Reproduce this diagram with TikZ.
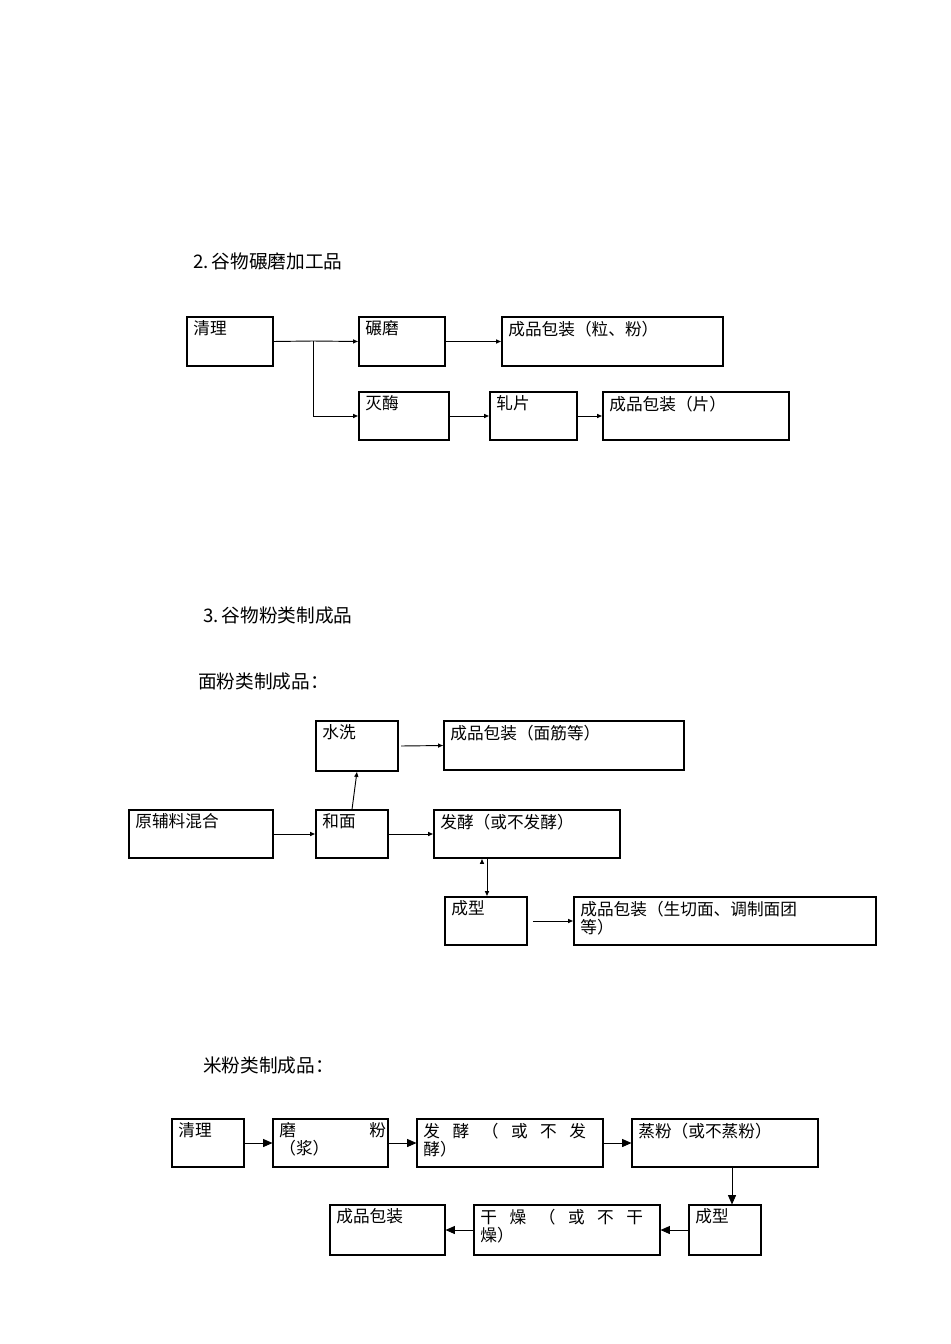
\documentclass[tikz,border=0pt]{standalone}
\usepackage{fontspec}
\setmainfont{Noto Sans CJK SC}
\usetikzlibrary{arrows.meta}
\begin{document}
\begin{tikzpicture}[x=0.75pt,y=-0.75pt,
  box/.style={draw,line width=0.8pt,inner sep=0,rectangle},
  lbl/.style={anchor=north west,inner sep=0,xshift=5pt,yshift=-3pt,align=left,font=\fontsize{12.5}{13.5}\selectfont},
  title/.style={anchor=west,inner sep=0,font=\fontsize{14}{16}\selectfont},
  ar/.style={-{Latex[length=4pt,width=3.5pt]},line width=0.7pt},
  arb/.style={-{Triangle[length=7pt,width=6pt]},line width=0.7pt}]
\newcommand\bx[6]{\node[box,minimum width={(#4-#2)*0.75pt},minimum height={(#5-#3)*0.75pt}] (#1) at ({(#2+#4)/2},{(#3+#5)/2}) {};
  \node[lbl] at (#1.north west) {#6};}
\useasboundingbox (0,0) rectangle (950,1344);
% section 2
\node[title] (t2) at (193,261) {2.\,谷物碾磨加工品};
\bx{a1}{187}{317}{273}{366}{清理}
\bx{a2}{359}{317}{445}{366}{碾磨}
\bx{a3}{502}{317}{723}{366}{成品包装（粒、粉）}
\bx{a4}{359}{392}{449}{440}{灭酶}
\bx{a5}{490}{392}{577}{440}{轧片}
\bx{a6}{603}{392}{789}{440}{成品包装（片）}
\coordinate (j) at (313,341);
\draw[ar] (a1.east) -- (j) -- (a2.west);
\draw[ar] (j) |- (a4.west);
\draw[ar] (a2) -- (a3);
\draw[ar] (a4) -- (a5);
\draw[ar] (a5) -- (a6);
% section 3
\node[title] (t3) at (203,615) {3.\,谷物粉类制成品};
\node[title] (t31) at (198,681) {面粉类制成品：};
\bx{b1}{316}{721}{398}{771}{水洗}
\bx{b2}{444}{721}{684}{770}{成品包装（面筋等）}
\bx{b3}{129}{810}{273}{858}{原辅料混合}
\bx{b4}{316}{810}{388}{858}{和面}
\bx{b5}{434}{810}{620}{858}{发酵（或不发酵）}
\bx{b6}{445}{897}{527}{945}{成型}
\bx{b7}{574}{897}{876}{945}{成品包装（生切面、调制面团\\等）}
\draw[ar] (b1.east) ++(2pt,0) -- (b2.west);
\draw[ar] (b4.north) -- (b1.south);
\draw[ar] (b3) -- (b4);
\draw[ar] (b4) -- (b5);
\draw[ar] (b5.south -| b6) ++(-3pt,0) coordinate (c1);
\draw[ar] (487,858) -- (b6.north -| 487,0);
\draw[ar] (b6.east) ++(4pt,0) -- (b7.west);
% rice
\node[title] (t32) at (203,1065) {米粉类制成品：};
\bx{c1}{172}{1119}{244}{1167}{清理}
\bx{c2}{273}{1119}{388}{1167}{\makebox[80pt][s]{磨 粉}\\（浆）}
\bx{c3}{417}{1119}{603}{1167}{\makebox[122pt][s]{发 酵 （ 或 不 发}\\酵）}
\bx{c4}{632}{1119}{818}{1167}{蒸粉（或不蒸粉）}
\bx{c5}{689}{1205}{761}{1255}{成型}
\bx{c6}{474}{1205}{660}{1255}{\makebox[122pt][s]{干 燥 （ 或 不 干}\\燥）}
\bx{c7}{330}{1205}{445}{1255}{成品包装}
\draw[arb] (c1) -- (c2);
\draw[arb] (c2) -- (c3);
\draw[arb] (c3) -- (c4);
\draw[arb] (c4.south -| 732,0) -- (c5.north -| 732,0);
\draw[arb] (c5) -- (c6);
\draw[arb] (c6) -- (c7);
\end{tikzpicture}
\end{document}
